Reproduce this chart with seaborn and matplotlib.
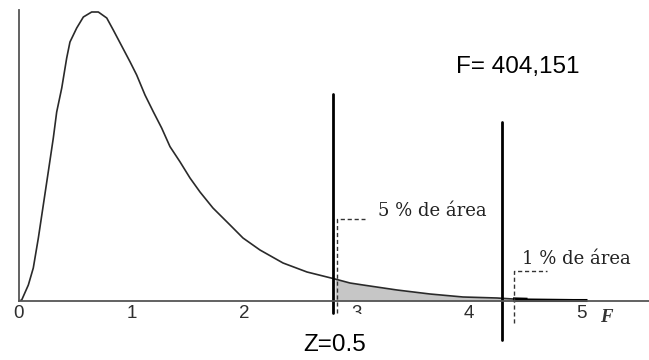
import numpy as np
import pandas as pd
import matplotlib
matplotlib.use("Agg")
import matplotlib.pyplot as plt
import seaborn as sns
from matplotlib.patches import Rectangle

# Data
F_x = [0.0, 0.024, 0.083, 0.127, 0.172, 0.216, 0.260, 0.305, 0.335, 0.380,
       0.424, 0.453, 0.513, 0.572, 0.646, 0.705, 0.780, 0.838, 0.913, 0.987,
       1.046, 1.12, 1.194, 1.268, 1.342, 1.431, 1.52, 1.609, 1.724, 1.876,
       1.991, 2.142, 2.347, 2.56, 2.809, 2.942, 3.058, 3.36, 3.653, 3.947,
       4.249, 4.391, 5.031]
dens_y = [0.0, 0.0025, 0.04, 0.0825, 0.1575, 0.24, 0.3225, 0.4075, 0.4725, 0.5325,
          0.6075, 0.6475, 0.6825, 0.71, 0.7225, 0.7225, 0.7075, 0.6775, 0.6375, 0.598,
          0.565, 0.515, 0.473, 0.4325, 0.386, 0.348, 0.3075, 0.2725, 0.2325, 0.19,
          0.1575, 0.1275, 0.095, 0.0725, 0.055, 0.045, 0.04, 0.0275, 0.0175, 0.01,
          0.0075, 0.005, 0.0025]
tick_vals = [0, 1, 2, 3, 4, 5]
tick_labels = ["0", "1", "2", "3", "4", "5"]
crit_5 = 2.809
crit_1 = 4.391
line_z = 2.79
line_f = 4.29
label_5 = "5 % de área"
label_1 = "1 % de área"
label_F = "F= 404,151"
label_Z = "Z=0.5"

sns.set_theme(style="white")
plt.rcParams["font.family"] = ["DejaVu Sans"]

fig = plt.figure(figsize=(6.49, 3.60), dpi=100)
W, H = 649, 360
ax = fig.add_axes([19 / W, 59 / H, (W - 19) / W, 291 / H])
ax.set_xlim(0, (W - 19) / 112.5)
ax.set_ylim(0, 0.7275)

df = pd.DataFrame({"F": F_x, "d": dens_y})
sns.lineplot(data=df, x="F", y="d", ax=ax, color="#2a2a2a", linewidth=1.2,
             sort=False, estimator=None)

# shaded 5% tail
tail = df[(df["F"] >= crit_5) & (df["F"] <= crit_1)]
ax.fill_between(tail["F"], 0, tail["d"], color="#c6c6c6", linewidth=0)
# 1% tail (black)
ax.plot([crit_1, 4.52], [0.004, 0.003], color="black", linewidth=3.0,
        solid_capstyle="butt", clip_on=False)
ax.plot([crit_1, 5.05], [0.002, 0.002], color="black", linewidth=2.2,
        solid_capstyle="butt", clip_on=False)

# dashed callouts
ax.plot([crit_5 + 0.02, crit_5 + 0.02, crit_5 + 0.27], [-0.03, 0.205, 0.205],
        color="#333333", linestyle=(0, (3, 2)), linewidth=1.0, clip_on=False)
ax.plot([crit_1 + 0.01, crit_1 + 0.01, crit_1 + 0.30], [-0.055, 0.075, 0.075],
        color="#333333", linestyle=(0, (3, 2)), linewidth=1.0, clip_on=False)

# thick vertical lines
ax.plot([line_z, line_z], [0.5175, -0.03], color="black", linewidth=2.0, clip_on=False)
ax.plot([line_f, line_f], [0.4475, -0.0975], color="black", linewidth=2.0, clip_on=False)

# spines
for s in ["top", "right"]:
    ax.spines[s].set_visible(False)
for s in ["left", "bottom"]:
    ax.spines[s].set_color("#555555")
    ax.spines[s].set_linewidth(1.3)
ax.set_yticks([])
ax.set_xticks(tick_vals)
ax.set_xticklabels(tick_labels, fontsize=13.5, color="#2e2e2e",
                   family=["Liberation Sans", "DejaVu Sans"])
ax.tick_params(axis="x", length=0, pad=3)
ax.set_xlabel("")
ax.set_ylabel("")

# annotations
ax.text(3.19, 0.225, label_5, fontsize=13, family=["DejaVu Serif"],
        ha="left", va="center", color="#222222")
ax.text(4.47, 0.105, label_1, fontsize=13, family=["DejaVu Serif"],
        ha="left", va="center", color="#222222")
fig.text(606 / W, 1 - 317 / H, "F", fontsize=13.5, family=["Liberation Serif", "DejaVu Serif"],
         style="italic", weight="bold", ha="center", va="center", color="#333333")

# cover lower part of the "3" label like the reference
fig.add_artist(Rectangle((342 / W, 0), 28 / W, 1 - 314 / H, transform=fig.transFigure,
                         facecolor="white", edgecolor="none", zorder=2))

fig.text(518 / W, 1 - 67 / H, label_F, fontsize=17.5, family=["Liberation Sans", "DejaVu Sans"],
         ha="center", va="center", color="black", zorder=3)
fig.text(335 / W, 1 - 345 / H, label_Z, fontsize=17.5, family=["Liberation Sans", "DejaVu Sans"],
         ha="center", va="center", color="black", zorder=3)

fig.savefig("out.png", dpi=100, facecolor="white")
